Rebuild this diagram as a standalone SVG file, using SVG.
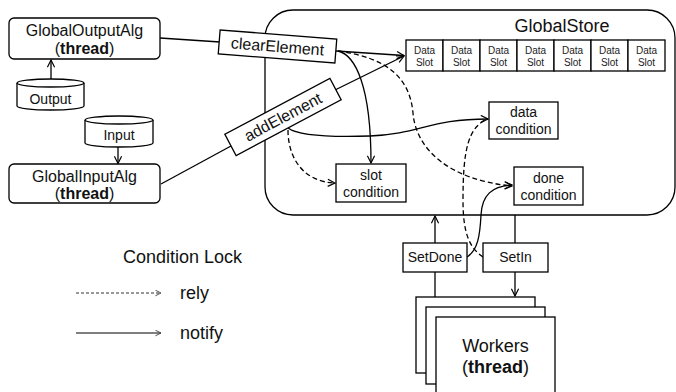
<svg xmlns="http://www.w3.org/2000/svg" width="676" height="392" viewBox="0 0 676 392">
<style>
.box{fill:#fff;stroke:#000;stroke-width:1.3}
.ln{fill:none;stroke:#000;stroke-width:1.3}
.dash{stroke-dasharray:5,3}
text{font-family:"Liberation Sans",Arial,sans-serif;fill:#111;text-anchor:middle}
.t16{font-size:16px}
.t14{font-size:14px}
.t18{font-size:18px}
.t10{font-size:10px;fill:#222}
.lg{text-anchor:start;font-size:18px}
</style>
<defs>
<marker id="arr" viewBox="0 0 10 10" refX="9" refY="5" markerWidth="9" markerHeight="9" orient="auto" markerUnits="userSpaceOnUse">
<path d="M1,1 L9,5 L1,9" fill="none" stroke="#000" stroke-width="1.3"/>
</marker>
<marker id="arrs" viewBox="0 0 10 10" refX="9" refY="5" markerWidth="7" markerHeight="7" orient="auto" markerUnits="userSpaceOnUse">
<path d="M1,1 L9,5 L1,9" fill="none" stroke="#444" stroke-width="1.3"/>
</marker>
</defs>
<rect width="676" height="392" fill="#fff"/>

<g id="GlobalStore">
<rect class="box" x="265" y="10" width="410" height="205" rx="28" ry="28"/>
<text class="t18" x="562" y="32">GlobalStore</text>
</g>

<g id="DataSlots">
<rect class="box" x="406" y="40" width="37" height="31"/>
<rect class="box" x="443" y="40" width="37" height="31"/>
<rect class="box" x="480" y="40" width="37" height="31"/>
<rect class="box" x="517" y="40" width="37" height="31"/>
<rect class="box" x="554" y="40" width="37" height="31"/>
<rect class="box" x="591" y="40" width="37" height="31"/>
<rect class="box" x="628" y="40" width="37" height="31"/>
<text class="t10" x="424.5" y="54">Data</text><text class="t10" x="424.5" y="66">Slot</text>
<text class="t10" x="461.5" y="54">Data</text><text class="t10" x="461.5" y="66">Slot</text>
<text class="t10" x="498.5" y="54">Data</text><text class="t10" x="498.5" y="66">Slot</text>
<text class="t10" x="535.5" y="54">Data</text><text class="t10" x="535.5" y="66">Slot</text>
<text class="t10" x="572.5" y="54">Data</text><text class="t10" x="572.5" y="66">Slot</text>
<text class="t10" x="609.5" y="54">Data</text><text class="t10" x="609.5" y="66">Slot</text>
<text class="t10" x="646.5" y="54">Data</text><text class="t10" x="646.5" y="66">Slot</text>
</g>

<g id="connectors">
<path class="ln" d="M160,38 L220,42"/>
<path class="ln" d="M336,51 L404,55.5" marker-end="url(#arr)"/>
<path class="ln" d="M161,184 L231,146"/>
<path class="ln" d="M335,90 L404,56" marker-end="url(#arr)"/>
<path class="ln" d="M51,79 L51,60" marker-end="url(#arr)"/>
<path class="ln" d="M118,147 L118,163.5" marker-end="url(#arr)"/>
<path class="ln" d="M338,51 C355,55 371,85 371,163" marker-end="url(#arr)"/>
<path class="ln dash" d="M338,51 C390,58 410,80 413,113 C416,150 450,180 512,186" marker-end="url(#arr)"/>
<path class="ln" d="M288,128 C300,137 340,137 370,136 C420,134 430,119 488,119" marker-end="url(#arr)"/>
<path class="ln dash" d="M288,130 C288,160 305,182 335,183" marker-end="url(#arr)"/>
<path class="ln dash" d="M483,257 C470,248 463,235 463,200 C463,150 468,128 487,119"/>
<path class="ln" d="M467,257 C478,250 480,235 481,215 C482,195 492,186 512,185" marker-end="url(#arr)"/>
<path class="ln" d="M435,243 L435,216" marker-end="url(#arr)"/>
<path class="ln" d="M435,297 L435,272"/>
<path class="ln" d="M515,215 L515,243"/>
<path class="ln" d="M515,272 L515,296" marker-end="url(#arr)"/>
</g>

<g id="GlobalOutputAlg">
<rect class="box" x="9" y="18" width="151" height="41" rx="5"/>
<text class="t16" x="84.5" y="36">GlobalOutputAlg</text>
<text class="t16" x="84.5" y="54">(<tspan font-weight="bold">thread</tspan>)</text>
</g>

<g id="Output">
<path class="box" d="M17,83 V106 A33.5,4 0 0 0 84,106 V83"/>
<ellipse class="box" cx="50.5" cy="83" rx="33.5" ry="4"/>
<text class="t14" x="50.5" y="104">Output</text>
</g>

<g id="Input">
<path class="box" d="M85,120 V143 A34,4 0 0 0 153,143 V120"/>
<ellipse class="box" cx="119" cy="120" rx="34" ry="4"/>
<text class="t14" x="119" y="140">Input</text>
</g>

<g id="GlobalInputAlg">
<rect class="box" x="9" y="164" width="151" height="39" rx="5"/>
<text class="t16" x="84.5" y="182">GlobalInputAlg</text>
<text class="t16" x="84.5" y="199">(<tspan font-weight="bold">thread</tspan>)</text>
</g>

<g id="clearElement" transform="translate(277.5,46.5) rotate(4.5)">
<rect class="box" x="-58.5" y="-12" width="117" height="24"/>
<text class="t16" x="0" y="5.5">clearElement</text>
</g>

<g id="addElement" transform="translate(283,117) rotate(-28)">
<rect class="box" x="-59.5" y="-12" width="119" height="24"/>
<text class="t16" x="0" y="5.5">addElement</text>
</g>

<g id="dataCondition">
<rect class="box" x="489" y="102" width="69" height="37"/>
<text class="t14" x="523.5" y="117">data</text>
<text class="t14" x="523.5" y="134">condition</text>
</g>

<g id="slotCondition">
<rect class="box" x="336" y="164" width="70" height="38"/>
<text class="t14" x="371" y="180">slot</text>
<text class="t14" x="371" y="197">condition</text>
</g>

<g id="doneCondition">
<rect class="box" x="514" y="167" width="69" height="38"/>
<text class="t14" x="548.5" y="183">done</text>
<text class="t14" x="548.5" y="200">condition</text>
</g>

<g id="SetDone">
<rect class="box" x="403" y="243" width="64" height="29"/>
<text class="t14" x="435" y="262">SetDone</text>
</g>

<g id="SetIn">
<rect class="box" x="483" y="243" width="65" height="29"/>
<text class="t14" x="515.5" y="262">SetIn</text>
</g>

<g id="Workers">
<rect class="box" x="416" y="297" width="119" height="76"/>
<rect class="box" x="426" y="307" width="119" height="77"/>
<rect class="box" x="436" y="317" width="119" height="77"/>
<text class="t18" x="495.5" y="352">Workers</text>
<text class="t18" x="495.5" y="373">(<tspan font-weight="bold">thread</tspan>)</text>
</g>

<g id="legend">
<text class="lg" x="123" y="263">Condition Lock</text>
<path d="M76,293 L161,293" fill="none" stroke="#333" stroke-width="1.1" stroke-dasharray="3,2" marker-end="url(#arrs)"/>
<text class="lg" x="180" y="299">rely</text>
<path d="M76,333 L161,333" fill="none" stroke="#555" stroke-width="1.3" marker-end="url(#arrs)"/>
<text class="lg" x="180" y="339">notify</text>
</g>
</svg>
